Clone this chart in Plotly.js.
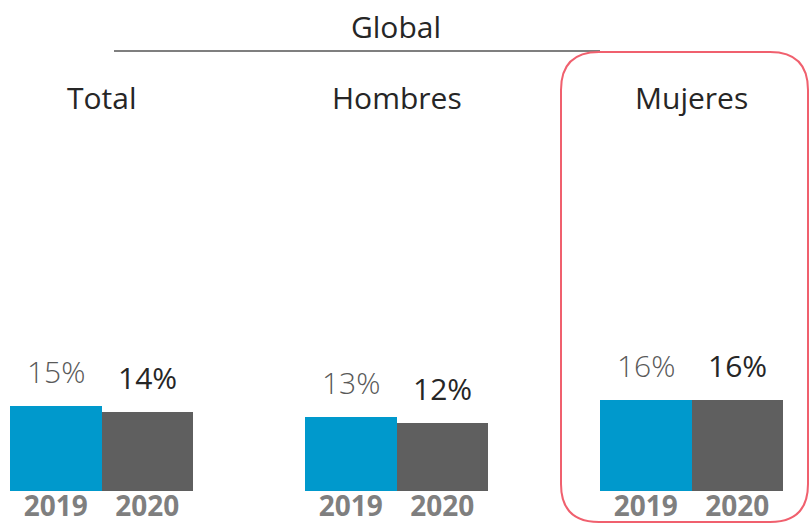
<!DOCTYPE html>
<html>
<head>
<meta charset="utf-8">
<script src="https://cdn.plot.ly/plotly-3.0.1.min.js"></script>
<style>
  html, body { margin: 0; padding: 0; background: #fff; }
  #chart { width: 810px; height: 524px; }
</style>
</head>
<body>
<div id="chart"></div>
<script>
var groups = ['Total', 'Hombres', 'Mujeres'];
var years = ['2019', '2020'];
var values2019 = [15, 13, 16];
var values2020 = [14, 12, 16];

var W = 810, H = 524, B = 33;
var plotH = H - B;
var FONT = '"Open Sans", sans-serif';

// pixel -> paper helpers (decoration only)
function px(x) { return x / W; }
function py(y) { return (plotH - y) / plotH; }

var domains = [[10, 193], [305, 488], [600, 783]];

var data = [];
var annotations = [];
var layout = {
    width: W,
    height: H,
    margin: {l: 0, r: 0, t: 0, b: B},
    paper_bgcolor: '#fff',
    plot_bgcolor: '#fff',
    showlegend: false,
    bargap: 0,
    title: {
        text: 'Global',
        font: {family: FONT, size: 30, color: '#262626'},
        x: 396 / W, xanchor: 'center',
        y: 1 - 27 / H, yanchor: 'middle'
    },
    yaxis: {
        range: [0, 86.65], fixedrange: true,
        showgrid: false, zeroline: false, showline: false,
        showticklabels: false, ticks: ''
    }
};

groups.forEach(function (g, i) {
    var ax = i === 0 ? 'x' : 'x' + (i + 1);
    var axKey = i === 0 ? 'xaxis' : 'xaxis' + (i + 1);
    var vals = [values2019[i], values2020[i]];

    data.push({
        type: 'bar',
        x: years,
        y: vals,
        xaxis: ax,
        yaxis: 'y',
        marker: {color: ['#0099CC', '#5F5F5F']},
        hoverinfo: 'skip'
    });

    layout[axKey] = {
        domain: [px(domains[i][0]), px(domains[i][1])],
        anchor: 'y',
        type: 'category',
        range: [-0.5, 1.5],
        showgrid: false, zeroline: false, showline: false,
        ticks: '',
        ticklabelstandoff: -4,
        tickfont: {family: FONT, size: 28, color: '#7F7F7F', weight: 700},
        fixedrange: true
    };

    // group subtitle
    annotations.push({
        xref: 'paper', yref: 'paper',
        x: (px(domains[i][0]) + px(domains[i][1])) / 2,
        y: py(98), yanchor: 'middle', xanchor: 'center',
        text: g, showarrow: false,
        font: {family: FONT, size: 30, color: '#262626'}
    });

    // value labels
    vals.forEach(function (v, j) {
        annotations.push({
            xref: ax, yref: 'y',
            x: j, y: v,
            yanchor: 'bottom', yshift: 12,
            text: v + '%', showarrow: false,
            font: j === 0
                ? {family: FONT, size: 30, color: '#595959', weight: 300}
                : {family: FONT, size: 30, color: '#262626', weight: 500}
        });
    });
});

layout.annotations = annotations;

// rounded highlight box around Mujeres
var L = 561, R = 808, T = 52, Bt = 522, r = 38;
var path = 'M ' + px(L + r) + ' ' + py(T) +
    ' L ' + px(R - r) + ' ' + py(T) +
    ' Q ' + px(R) + ' ' + py(T) + ' ' + px(R) + ' ' + py(T + r) +
    ' L ' + px(R) + ' ' + py(Bt - r) +
    ' Q ' + px(R) + ' ' + py(Bt) + ' ' + px(R - r) + ' ' + py(Bt) +
    ' L ' + px(L + r) + ' ' + py(Bt) +
    ' Q ' + px(L) + ' ' + py(Bt) + ' ' + px(L) + ' ' + py(Bt - r) +
    ' L ' + px(L) + ' ' + py(T + r) +
    ' Q ' + px(L) + ' ' + py(T) + ' ' + px(L + r) + ' ' + py(T) + ' Z';

layout.shapes = [
    {
        type: 'line', xref: 'paper', yref: 'paper',
        x0: px(114), x1: px(600), y0: py(51), y1: py(51),
        line: {color: '#7F7F7F', width: 2}
    },
    {
        type: 'path', xref: 'paper', yref: 'paper',
        path: path,
        line: {color: '#F0606E', width: 2}
    }
];

Plotly.newPlot('chart', data, layout, {displayModeBar: false, staticPlot: true});
</script>
</body>
</html>
